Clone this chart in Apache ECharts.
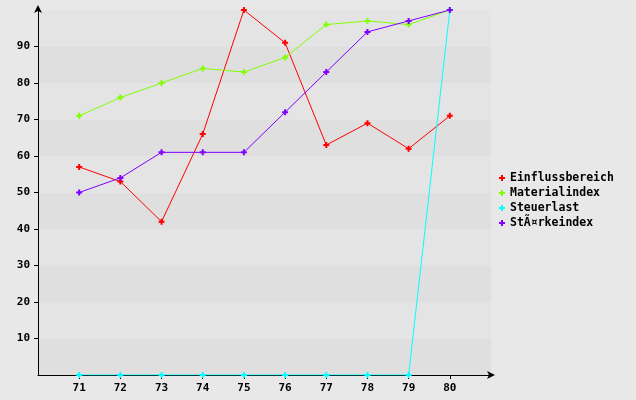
<!DOCTYPE html>
<html>
<head>
<meta charset="utf-8">
<script src="https://cdn.jsdelivr.net/npm/echarts@6/dist/echarts.min.js"></script>
<style>
  html, body { margin: 0; padding: 0; background: #e8e8e8; }
  #chart { width: 636px; height: 400px; }
</style>
</head>
<body>
<div id="chart"></div>
<script>
  // Kategorien (x) und Werte
  const categories = [71, 72, 73, 74, 75, 76, 77, 78, 79, 80];
  const einflussbereich = [57, 53, 42, 66, 100, 91, 63, 69, 62, 71];
  const materialindex = [71, 76, 80, 84, 83, 87, 96, 97, 96, 100];
  const steuerlast = [0, 0, 0, 0, 0, 0, 0, 0, 0, 100];
  const staerkeindex = [50, 54, 61, 61, 61, 72, 83, 94, 97, 100];
  const yTicks = [10, 20, 30, 40, 50, 60, 70, 80, 90];

  const names = ['Einflussbereich', 'Materialindex', 'Steuerlast', 'StÃ¤rkeindex'];
  const colors = ['#ff0000', '#80ff00', '#00ffff', '#8000ff'];
  const values = [einflussbereich, materialindex, steuerlast, staerkeindex];

  const cross = 'path://M2,0h2v2h2v2h-2v2h-2v-2h-2v-2h2z';
  const font = 'DejaVu Sans Mono';
  const labelStyle = { fontFamily: font, fontWeight: 'bold', fontSize: 11, color: '#000' };

  const chart = echarts.init(document.getElementById('chart'));
  chart.setOption({
    backgroundColor: '#e8e8e8',
    animation: false,
    grid: { left: 38, right: 145, top: 10, bottom: 25 },
    legend: {
      orient: 'vertical',
      left: 494,
      top: 167,
      itemGap: 3,
      itemWidth: 6,
      itemHeight: 6,
      icon: cross,
      textStyle: { fontFamily: font, fontWeight: 'bold', fontSize: 11.5, color: '#000' },
      data: names
    },
    xAxis: {
      type: 'value',
      min: 70,
      max: 81,
      interval: 1,
      axisLine: { show: true, lineStyle: { color: '#000' }, symbol: ['none', 'arrow'], symbolSize: [6, 8], symbolOffset: [0, 4] },
      axisTick: { show: true, length: 4, lineStyle: { color: '#000' }, customValues: categories },
      axisLabel: Object.assign({ margin: 8, customValues: categories }, labelStyle),
      splitLine: { show: false }
    },
    yAxis: [{
      type: 'value',
      min: 0,
      max: 100,
      interval: 10,
      axisLine: { show: true, lineStyle: { color: '#000' }, symbol: ['none', 'arrow'], symbolSize: [6, 8], symbolOffset: [0, 5] },
      axisTick: { show: true, length: 4, lineStyle: { color: '#000' }, customValues: yTicks },
      axisLabel: Object.assign({ margin: 8, customValues: yTicks }, labelStyle),
      splitLine: { show: false },
      z: 3
    }, {
      // nur fuer die Streifen im Hintergrund
      type: 'value',
      min: 0,
      max: 100,
      interval: 10,
      position: 'left',
      axisLine: { show: false },
      axisTick: { show: false },
      axisLabel: { show: false },
      splitLine: { show: false },
      splitArea: { show: true, areaStyle: { color: ['#dfdfdf', '#e4e4e4'] } }
    }],
    series: names.map((n, i) => ({
      name: n,
      type: 'line',
      data: categories.map((c, j) => [c, values[i][j]]),
      symbol: cross,
      symbolSize: 6,
      showAllSymbol: true,
      lineStyle: { color: colors[i], width: 1 },
      itemStyle: { color: colors[i] }
    }))
  });
</script>
</body>
</html>
